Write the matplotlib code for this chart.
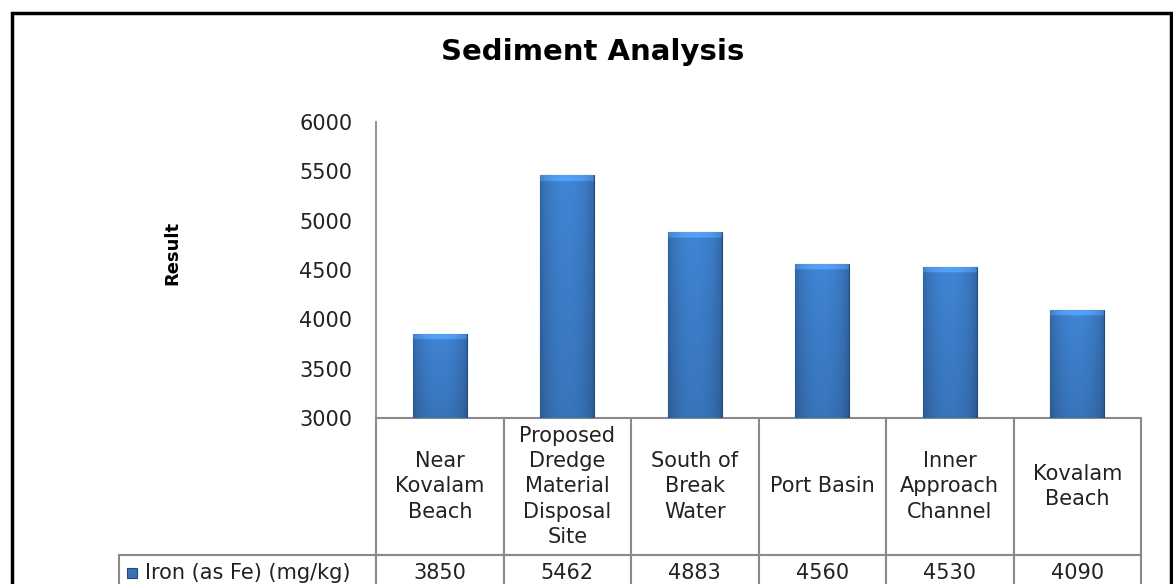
import numpy as np
import matplotlib.pyplot as plt
from matplotlib.patches import Rectangle
from matplotlib.table import Table

categories = ['Near\nKovalam\nBeach',
              'Proposed\nDredge\nMaterial\nDisposal\nSite',
              'South of\nBreak\nWater',
              'Port Basin',
              'Inner\nApproach\nChannel',
              'Kovalam\nBeach']
iron = [3850, 5462, 4883, 4560, 4530, 4090]
series_name = 'Iron (as Fe) (mg/kg)'
yticks = [3000, 3500, 4000, 4500, 5000, 5500, 6000]

W, H = 1173, 584
grid_color = '#8a8a8a'

fig = plt.figure(figsize=(W / 100, H / 100), dpi=100)
ax = fig.add_axes([376 / W, 1 - 418 / H, (1141 - 376) / W, (418 - 122) / H])

x = np.arange(len(iron))
bar_w = 0.42
bars = ax.bar(x, iron, width=bar_w, color='#3b7bc5', edgecolor='#1f4a84',
              linewidth=0.8, zorder=2)

# shaded look for the bars: darker sides, light bevel on top
base = np.array([0.24, 0.50, 0.80])
for b, val in zip(bars, iron):
    nrow, ncol = 200, 40
    u = np.linspace(0, 1, ncol)
    side = 0.80 + 0.24 * np.sin(np.pi * u) ** 0.6
    v = np.linspace(0, 1, nrow)[:, None]  # 0 top, 1 bottom
    depth = (val - 3000) * v
    shade = side[None, :] * (1.0 - 0.12 * v)
    img = np.clip(base[None, None, :] * shade[:, :, None], 0, 1)
    bevel = depth < 50
    img[bevel[:, 0]] = np.clip(img[bevel[:, 0]] * 1.12 + 0.05, 0, 1)
    im = ax.imshow(img, extent=[b.get_x(), b.get_x() + b.get_width(), 3000, val],
                   aspect='auto', zorder=2.5, interpolation='bilinear')
    im.set_clip_path(b)

ax.set_xlim(-0.5, len(iron) - 0.5)
ax.set_ylim(3000, 6000)
ax.set_yticks(yticks)
ax.set_xticks([])
ax.tick_params(axis='y', length=0, pad=17, labelsize=15, labelcolor='#222222')
for side_name in ['top', 'right', 'bottom']:
    ax.spines[side_name].set_visible(False)
ax.spines['left'].set_color(grid_color)
ax.spines['left'].set_linewidth(1.3)

ax.set_ylabel('Result', fontsize=13, fontweight='bold')
ax.yaxis.set_label_coords(-0.255, 0.557)

# data table under the plot (row label column hangs left of the bbox)
head_h, row_h = 137, 36
lab_w = 257 / 765
ax_h = 296
tbl = Table(ax, bbox=[0, -(head_h + row_h) / ax_h, 1, (head_h + row_h) / ax_h])
for j, (cat, val) in enumerate(zip(categories, iron)):
    tbl.add_cell(0, j, width=1 / 6, height=head_h, text=cat, loc='center',
                 edgecolor=grid_color, facecolor='white')
    tbl.add_cell(1, j, width=1 / 6, height=row_h, text=str(val), loc='center',
                 edgecolor=grid_color, facecolor='white')
tbl.add_cell(1, -1, width=lab_w, height=row_h, text=series_name, loc='left',
             edgecolor=grid_color, facecolor='white')
tbl.auto_set_font_size(False)
tbl.set_fontsize(15)
for cell in tbl.get_celld().values():
    cell.set_linewidth(1.5)
    cell.get_text().set_color('#222222')
    cell.get_text().set_linespacing(1.32)
ax.add_table(tbl)

# legend key square in the row label cell
key = Rectangle((-lab_w + 8 / 765, -(head_h + row_h / 2 + 5) / ax_h), 10 / 765, 10 / ax_h,
                transform=ax.transAxes, facecolor='#3a72b8', edgecolor='#1e4a86',
                linewidth=0.8, clip_on=False, zorder=5)
ax.add_patch(key)

fig.text(593 / W, 1 - 52 / H, 'Sediment Analysis', fontsize=21, fontweight='bold',
         ha='center', va='center')

# outer chart border
fig.add_artist(Rectangle((12 / W, -0.1), (1171 - 12) / W, 1 - 13 / H + 0.1,
                         transform=fig.transFigure, fill=False,
                         edgecolor='black', linewidth=2.5))

fig.savefig('out.png', dpi=100)
